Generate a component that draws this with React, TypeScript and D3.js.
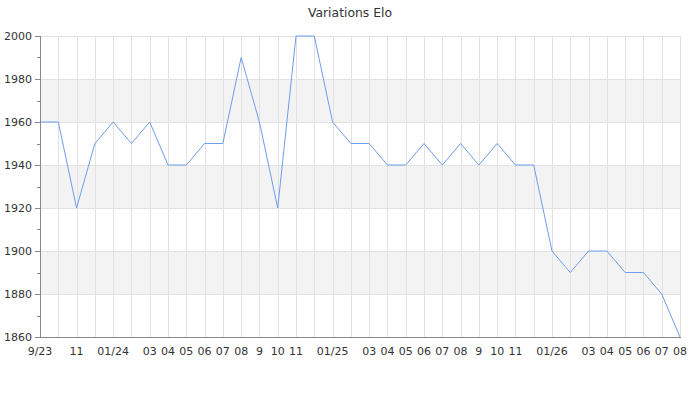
import React from "react";
import * as d3 from "d3";

const months = [
  "2023-09","2023-10","2023-11","2023-12",
  "2024-01","2024-02","2024-03","2024-04","2024-05","2024-06","2024-07","2024-08","2024-09","2024-10","2024-11","2024-12",
  "2025-01","2025-02","2025-03","2025-04","2025-05","2025-06","2025-07","2025-08","2025-09","2025-10","2025-11","2025-12",
  "2026-01","2026-02","2026-03","2026-04","2026-05","2026-06","2026-07","2026-08",
];
const eloValues = [
  1960,1960,1920,1950,
  1960,1950,1960,1940,1940,1950,1950,1990,1960,1920,2000,2000,
  1960,1950,1950,1940,1940,1950,1940,1950,1940,1950,1940,1940,
  1900,1890,1900,1900,1890,1890,1880,1860,
];
const xTickLabels = [
  "9/23","","11","",
  "01/24","","03","04","05","06","07","08","9","10","11","",
  "01/25","","03","04","05","06","07","08","9","10","11","",
  "01/26","","03","04","05","06","07","08",
];
const yMajorTicks = [1860,1880,1900,1920,1940,1960,1980,2000];
const yMinorTicks = [1870,1890,1910,1930,1950,1970,1990];
const title = "Variations Elo";

const W = 700, H = 400;
const left = 40, right = 680, top = 36, bottom = 337;
const font = "DejaVu Sans, sans-serif";

export default function App() {
  const x = d3.scalePoint<string>().domain(months).range([left, right]);
  const y = d3.scaleLinear().domain([1860, 2000]).range([bottom, top]);
  const line = d3.line<number>().x((_, i) => x(months[i])!).y((d) => y(d));
  const bands = yMajorTicks.slice(0, -1).filter((_, i) => i % 2 === 1);

  return (
    <svg width={W} height={H} style={{ position: "absolute", left: 0, top: 0, background: "#fff" }}>
      <text x={350} y={16.5} textAnchor="middle" fontFamily={font} fontSize={12.4} fill="#333">{title}</text>
      {bands.map((v) => (
        <rect key={"b" + v} x={left} width={right - left} y={y(v + 20)} height={y(v) - y(v + 20)} fill="#f3f3f3" />
      ))}
      {yMajorTicks.map((v) => (
        <line key={"hg" + v} x1={left} x2={right} y1={y(v) + 0.5} y2={y(v) + 0.5} stroke="#e2e2e2" />
      ))}
      {months.map((m) => (
        <line key={"vg" + m} x1={Math.round(x(m)!) + 0.5} x2={Math.round(x(m)!) + 0.5} y1={top} y2={bottom} stroke="#e2e2e2" />
      ))}
      <path d={line(eloValues)!} fill="none" stroke="#6d9eeb" strokeWidth={1} />
      <line x1={left + 0.5} x2={left + 0.5} y1={top} y2={bottom + 0.5} stroke="#888" />
      <line x1={left} x2={right + 1} y1={bottom + 0.5} y2={bottom + 0.5} stroke="#888" />
      {yMajorTicks.map((v) => (
        <g key={"yt" + v}>
          <line x1={35} x2={left} y1={Math.round(y(v)) + 0.5} y2={Math.round(y(v)) + 0.5} stroke="#888" />
          <text x={32} y={y(v) + 4} textAnchor="end" fontFamily={font} fontSize={11} fill="#333">{v}</text>
        </g>
      ))}
      {yMinorTicks.map((v) => (
        <line key={"ym" + v} x1={37} x2={left} y1={Math.round(y(v)) + 0.5} y2={Math.round(y(v)) + 0.5} stroke="#888" />
      ))}
      {months.map((m, i) =>
        xTickLabels[i] ? (
          <text key={"xl" + m} x={x(m)!} y={355} textAnchor="middle" fontFamily={font} fontSize={11} fill="#333">{xTickLabels[i]}</text>
        ) : null
      )}
    </svg>
  );
}
